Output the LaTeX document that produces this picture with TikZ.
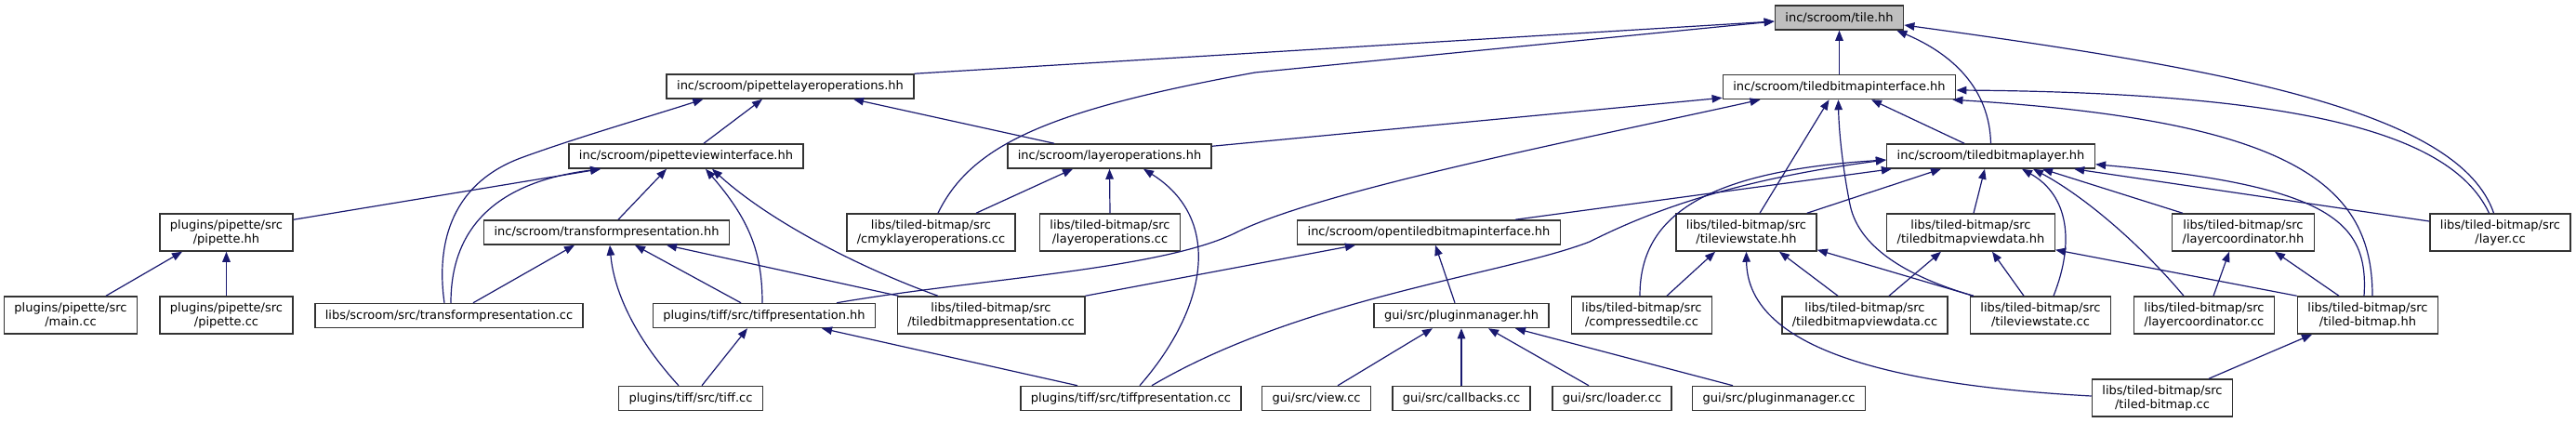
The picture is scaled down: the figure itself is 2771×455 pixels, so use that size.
\documentclass[tikz,border=0pt]{standalone}
\usepackage{fontspec}
\setmainfont{DejaVu Sans}
\usepackage{xcolor}
\usetikzlibrary{calc,arrows.meta}
\definecolor{edgeblue}{HTML}{191970}
\definecolor{rootgray}{HTML}{BFBFBF}
\newcommand{\dotfont}{\fontsize{13}{15}\selectfont}

\begin{document}
\begin{tikzpicture}[x=1pt,y=-1pt,
  file/.style={draw=black!80, line width=1.5pt, fill=white, font=\dotfont, inner xsep=11pt, inner ysep=0pt, minimum height=26pt},
  file2/.style={file, align=center, minimum height=40pt},
  dep/.style={draw=edgeblue, line width=1.2pt, -{Triangle[length=11pt,width=8.5pt]}}]
\useasboundingbox (0,0) rectangle (2771,455);
% headers
\node[file, fill=rootgray] (tile) at (1978.5,19) {inc/scroom/tile.hh};
\node[file] (tbi) at (1978.5,93.5) {inc/scroom/tiledbitmapinterface.hh};
\node[file] (plo) at (850,93) {inc/scroom/pipettelayeroperations.hh};
\node[file] (pvi) at (738,168) {inc/scroom/pipetteviewinterface.hh};
\node[file] (lo) at (1193.5,168) {inc/scroom/layeroperations.hh};
\node[file] (tbl) at (2141.5,168) {inc/scroom/tiledbitmaplayer.hh};
\node[file2] (pip) at (243.5,250) {plugins/pipette/src\\/pipette.hh};
\node[file] (tph) at (652.5,250) {inc/scroom/transformpresentation.hh};
\node[file2] (cmyk) at (1001.5,250) {libs/tiled-bitmap/src\\/cmyklayeroperations.cc};
\node[file2] (locc) at (1194,250) {libs/tiled-bitmap/src\\/layeroperations.cc};
\node[file] (otbi) at (1537,250) {inc/scroom/opentiledbitmapinterface.hh};
\node[file2] (tvsh) at (1878.5,250) {libs/tiled-bitmap/src\\/tileviewstate.hh};
\node[file2] (tbvdh) at (2120,250) {libs/tiled-bitmap/src\\/tiledbitmapviewdata.hh};
\node[file2] (lch) at (2413,250) {libs/tiled-bitmap/src\\/layercoordinator.hh};
\node[file2] (layer) at (2689.5,250) {libs/tiled-bitmap/src\\/layer.cc};
% lower rows
\node[file2] (main) at (76,339) {plugins/pipette/src\\/main.cc};
\node[file2] (pipcc) at (243.5,339) {plugins/pipette/src\\/pipette.cc};
\node[file] (tpcc) at (483,339.5) {libs/scroom/src/transformpresentation.cc};
\node[file] (tiffh) at (822,339.5) {plugins/tiff/src/tiffpresentation.hh};
\node[file2] (tbpcc) at (1066,339) {libs/tiled-bitmap/src\\/tiledbitmappresentation.cc};
\node[file] (pmh) at (1572,339.5) {gui/src/pluginmanager.hh};
\node[file2] (ctcc) at (1766,339) {libs/tiled-bitmap/src\\/compressedtile.cc};
\node[file2] (tbvdcc) at (2006,339) {libs/tiled-bitmap/src\\/tiledbitmapviewdata.cc};
\node[file2] (tvscc) at (2195,339) {libs/tiled-bitmap/src\\/tileviewstate.cc};
\node[file2] (lccc) at (2371,339) {libs/tiled-bitmap/src\\/layercoordinator.cc};
\node[file2] (tbh) at (2547,339) {libs/tiled-bitmap/src\\/tiled-bitmap.hh};
\node[file] (tiffcc) at (743,428.5) {plugins/tiff/src/tiff.cc};
\node[file] (tiffpcc) at (1216.5,428.5) {plugins/tiff/src/tiffpresentation.cc};
\node[file] (view) at (1416,428.5) {gui/src/view.cc};
\node[file] (cb) at (1572,428.5) {gui/src/callbacks.cc};
\node[file] (loader) at (1734,428.5) {gui/src/loader.cc};
\node[file] (pmcc) at (1913.5,428.5) {gui/src/pluginmanager.cc};
\node[file2] (tbcc) at (2326,428) {libs/tiled-bitmap/src\\/tiled-bitmap.cc};
% into tile.hh
\draw[dep] (tbi.north) -- (tile.south);
\draw[dep] (plo.north east) -- ($(tile.west)+(0,4)$);
\draw[dep] ($(cmyk.north)+(7.5,0)$) .. controls (1045,155) and (1130,118) .. (1350,78) -- ($(tile.west)+(0,4)$);
\draw[dep] (tbl.north) .. controls (2140,95) and (2100,58) .. ($(tile.south east)+(-8,0)$);
\draw[dep] ($(layer.north)+(-7,0)$) .. controls (2645,120) and (2400,75) .. ($(tile.east)+(0,8)$);
% into tiledbitmapinterface.hh
\draw[dep] ($(lo.north east)+(0,3)$) -- ($(tbi.south west)+(0,-2)$);
\draw[dep] ($(tiffh.north)+(78,0)$) .. controls (1050,300) and (1250,290) .. (1330,250) .. controls (1420,205) and (1700,150) .. ($(tbi.south)+(-85,0)$);
\draw[dep] ($(tvsh.north)+(14.5,0)$) -- ($(tbi.south)+(-11,0)$);
\draw[dep] ($(tvscc.north west)+(4,0)$) .. controls (2060,300) and (2000,270) .. (1990,220) .. controls (1982,180) and (1978,140) .. ($(tbi.south)+(-1,0)$);
\draw[dep] ($(tbl.north)+(-28.5,0)$) -- ($(tbi.south)+(34.5,0)$);
\draw[dep] ($(layer.north)+(-12,0)$) .. controls (2640,150) and (2500,100) .. ($(tbi.east)+(0,3.5)$);
\draw[dep] ($(tbh.north)+(5,0)$) .. controls (2552,200) and (2470,130) .. ($(tbi.south east)+(-4,0)$);
% into pipettelayeroperations.hh
\draw[dep] ($(pvi.north)+(19,0)$) -- ($(plo.south)+(-30,0)$);
\draw[dep] ($(lo.north)+(-59.5,0)$) -- ($(plo.south)+(68,0)$);
\draw[dep] ($(tpcc.north)+(-5,0)$) .. controls (470,270) and (480,200) .. (560,170) .. controls (620,148) and (700,125) .. ($(plo.south west)+(40,0)$);
% into pipetteviewinterface.hh
\draw[dep] ($(pip.north east)+(0,7)$) -- ($(pvi.south west)+(35,0)$);
\draw[dep] ($(tpcc.north)+(2,0)$) .. controls (485,240) and (540,195) .. ($(pvi.south west)+(35,0)$);
\draw[dep] ($(tph.north)+(12.5,0)$) -- ($(pvi.south)+(-21,0)$);
\draw[dep] ($(tiffh.north)+(-2,0)$) .. controls (820,270) and (805,235) .. ($(pvi.south)+(21,0)$);
\draw[dep] ($(tbpcc.north)+(-57,0)$) .. controls (930,290) and (830,240) .. ($(pvi.south)+(28,0)$);
% into layeroperations.hh
\draw[dep] ($(cmyk.north)+(48.5,0)$) -- ($(lo.south)+(-39.5,0)$);
\draw[dep] (locc.north) -- (lo.south);
\draw[dep] ($(tiffpcc.north)+(9.5,0)$) .. controls (1300,330) and (1315,235) .. ($(lo.south)+(36.5,0)$);
% into tiledbitmaplayer.hh
\draw[dep] ($(otbi.north)+(93,0)$) -- ($(tbl.south west)+(6,0)$);
\draw[dep] ($(ctcc.north)+(-2,0)$) .. controls (1764,240) and (1820,185) .. ($(tbl.west)+(0,4)$);
\draw[dep] ($(tiffpcc.north)+(22.5,0)$) .. controls (1400,320) and (1620,295) .. (1710,260) .. controls (1760,235) and (1850,195) .. ($(tbl.west)+(0,4)$);
\draw[dep] ($(tvsh.north east)+(-11,0)$) -- ($(tbl.south)+(-53.5,0)$);
\draw[dep] ($(tbvdh.north)+(3,0)$) -- ($(tbl.south)+(-6.5,0)$);
\draw[dep] ($(tvscc.north)+(14,0)$) .. controls (2232,260) and (2225,210) .. ($(tbl.south)+(33.5,0)$);
\draw[dep] ($(lccc.north)+(-22,0)$) .. controls (2300,260) and (2240,210) .. ($(tbl.south)+(45.5,0)$);
\draw[dep] ($(lch.north west)+(12,0)$) -- ($(tbl.south)+(55.5,0)$);
\draw[dep] ($(layer.west)+(0,-12)$) -- ($(tbl.south east)+(-23,0)$);
\draw[dep] ($(tbh.north)+(-4,0)$) .. controls (2548,240) and (2510,200) .. ($(tbl.south east)+(0,-5)$);
% into pipette.hh and transformpresentation.hh
\draw[dep] ($(main.north)+(38,0)$) -- ($(pip.south)+(-47.5,0)$);
\draw[dep] (pipcc.north) -- (pip.south);
\draw[dep] ($(tpcc.north)+(26,0)$) -- ($(tph.south)+(-34.5,0)$);
\draw[dep] ($(tiffcc.north)+(-13,0)$) .. controls (680,360) and (660,310) .. ($(tph.south)+(3.5,0)$);
\draw[dep] ($(tiffh.north)+(-25,0)$) -- ($(tph.south)+(30.5,0)$);
\draw[dep] ($(tbpcc.north west)+(2,0)$) -- ($(tph.south)+(64.5,0)$);
% into opentiledbitmapinterface.hh
\draw[dep] (tbpcc.north east) -- ($(otbi.south)+(-79,0)$);
\draw[dep] ($(pmh.north)+(-7,0)$) -- ($(otbi.south)+(7,0)$);
% into tileviewstate.hh, tiledbitmapviewdata.hh, layercoordinator.hh
\draw[dep] ($(ctcc.north)+(27,0)$) -- ($(tvsh.south)+(-33.5,0)$);
\draw[dep] ($(tbvdcc.north)+(-29,0)$) -- ($(tvsh.south)+(35.5,0)$);
\draw[dep] ($(tvscc.north west)+(4,0)$) -- ($(tvsh.south east)+(0,-2)$);
\draw[dep] ($(tbcc.west)+(0,-2)$) .. controls (2050,415) and (1880,380) .. (tvsh.south);
\draw[dep] ($(tbvdcc.north)+(26,0)$) -- ($(tbvdh.south)+(-32,0)$);
\draw[dep] ($(tvscc.north)+(-18,0)$) -- ($(tbvdh.south)+(23,0)$);
\draw[dep] (tbh.north west) -- ($(tbvdh.south east)+(0,-2)$);
\draw[dep] ($(lccc.north)+(10,0)$) -- ($(lch.south)+(-15,0)$);
\draw[dep] ($(tbh.north)+(-31,0)$) -- ($(lch.south)+(34,0)$);
% into tiffpresentation.hh, pluginmanager.hh, tiled-bitmap.hh
\draw[dep] ($(tiffcc.north)+(12,0)$) -- ($(tiffh.south)+(-18,0)$);
\draw[dep] ($(tiffpcc.north)+(-57.5,0)$) -- ($(tiffh.south)+(62,0)$);
\draw[dep] ($(view.north)+(23,0)$) -- ($(pmh.south)+(-31,0)$);
\draw[dep] (cb.north) -- (pmh.south);
\draw[dep] ($(loader.north)+(-25,0)$) -- ($(pmh.south)+(29,0)$);
\draw[dep] ($(pmcc.north)+(-49.5,0)$) -- ($(pmh.south)+(58,0)$);
\draw[dep] ($(tbcc.north)+(50,0)$) -- ($(tbh.south)+(-60,0)$);
\end{tikzpicture}
\end{document}
